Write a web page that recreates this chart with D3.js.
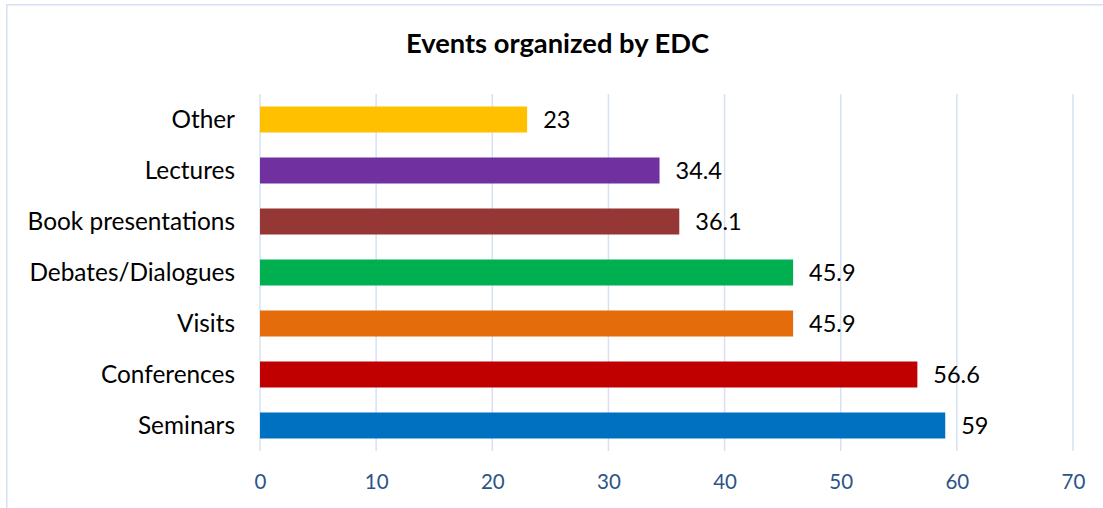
<!DOCTYPE html>
<html>
<head>
<meta charset="utf-8">
<script src="https://cdn.jsdelivr.net/npm/d3@7"></script>
<style>
  html, body { margin: 0; padding: 0; background: #ffffff; }
  svg { display: block; }
</style>
</head>
<body>
<div id="chart"></div>
<script>
const categories = ["Other", "Lectures", "Book presentations", "Debates/Dialogues", "Visits", "Conferences", "Seminars"];
const values = [23, 34.4, 36.1, 45.9, 45.9, 56.6, 59];
const barColors = ["#FFC000", "#7030A0", "#953735", "#00B050", "#E46C0A", "#C00000", "#0070C0"];
const tickValues = [0, 10, 20, 30, 40, 50, 60, 70];
const title = "Events organized by EDC";

const W = 1103, H = 508;
const plot = { left: 260, right: 1073, top: 94, bottom: 451 };
const FONT = "Lato, 'Open Sans', sans-serif";

const svg = d3.select("#chart").append("svg")
  .attr("width", W).attr("height", H);

svg.append("rect")
  .attr("x", 6.75).attr("y", 4.75)
  .attr("width", 1110).attr("height", 520)
  .attr("fill", "#ffffff")
  .attr("stroke", "#D6E2F3").attr("stroke-width", 1.5);

const x = d3.scaleLinear().domain([0, 70]).range([plot.left, plot.right]);
const y = d3.scaleBand().domain(categories)
  .range([plot.top, plot.bottom])
  .paddingInner(0.49).paddingOuter(0.245);

// gridlines
svg.append("g").selectAll("line").data(tickValues).join("line")
  .attr("x1", d => x(d)).attr("x2", d => x(d))
  .attr("y1", plot.top).attr("y2", plot.bottom)
  .attr("stroke", "#D6E2F3").attr("stroke-width", 1.5);

// x axis labels
const xAxis = d3.axisBottom(x).tickValues(tickValues).tickSize(0).tickPadding(0);
const gx = svg.append("g").attr("transform", `translate(0,${plot.bottom + 23})`).call(xAxis);
gx.select(".domain").remove();
gx.selectAll("text")
  .attr("font-family", FONT).attr("font-size", 20.5)
  .attr("fill", "#2C5486").attr("dy", "0.71em");

// y axis labels
const yAxis = d3.axisLeft(y).tickSize(0).tickPadding(0);
const gy = svg.append("g").attr("transform", `translate(${plot.left - 25},0)`).call(yAxis);
gy.select(".domain").remove();
gy.selectAll("text")
  .attr("font-family", FONT).attr("font-size", 24.4)
  .attr("fill", "#000000").attr("dy", "0.36em");

// bars
const data = categories.map((c, i) => ({ c, v: values[i], color: barColors[i] }));
svg.append("g").selectAll("rect").data(data).join("rect")
  .attr("x", x(0))
  .attr("y", d => y(d.c))
  .attr("width", d => x(d.v) - x(0))
  .attr("height", y.bandwidth())
  .attr("fill", d => d.color);

// value labels
svg.append("g").selectAll("text").data(data).join("text")
  .attr("x", d => x(d.v) + 16)
  .attr("y", d => y(d.c) + y.bandwidth() / 2)
  .attr("dy", "0.36em")
  .attr("font-family", FONT).attr("font-size", 23.5)
  .attr("fill", "#000000")
  .text(d => d3.format("~g")(d.v));

// title
svg.append("text")
  .attr("x", 557.5).attr("y", 53)
  .attr("text-anchor", "middle")
  .attr("font-family", FONT).attr("font-size", 27.3).attr("font-weight", "bold")
  .attr("fill", "#000000")
  .text(title);
</script>
</body>
</html>
